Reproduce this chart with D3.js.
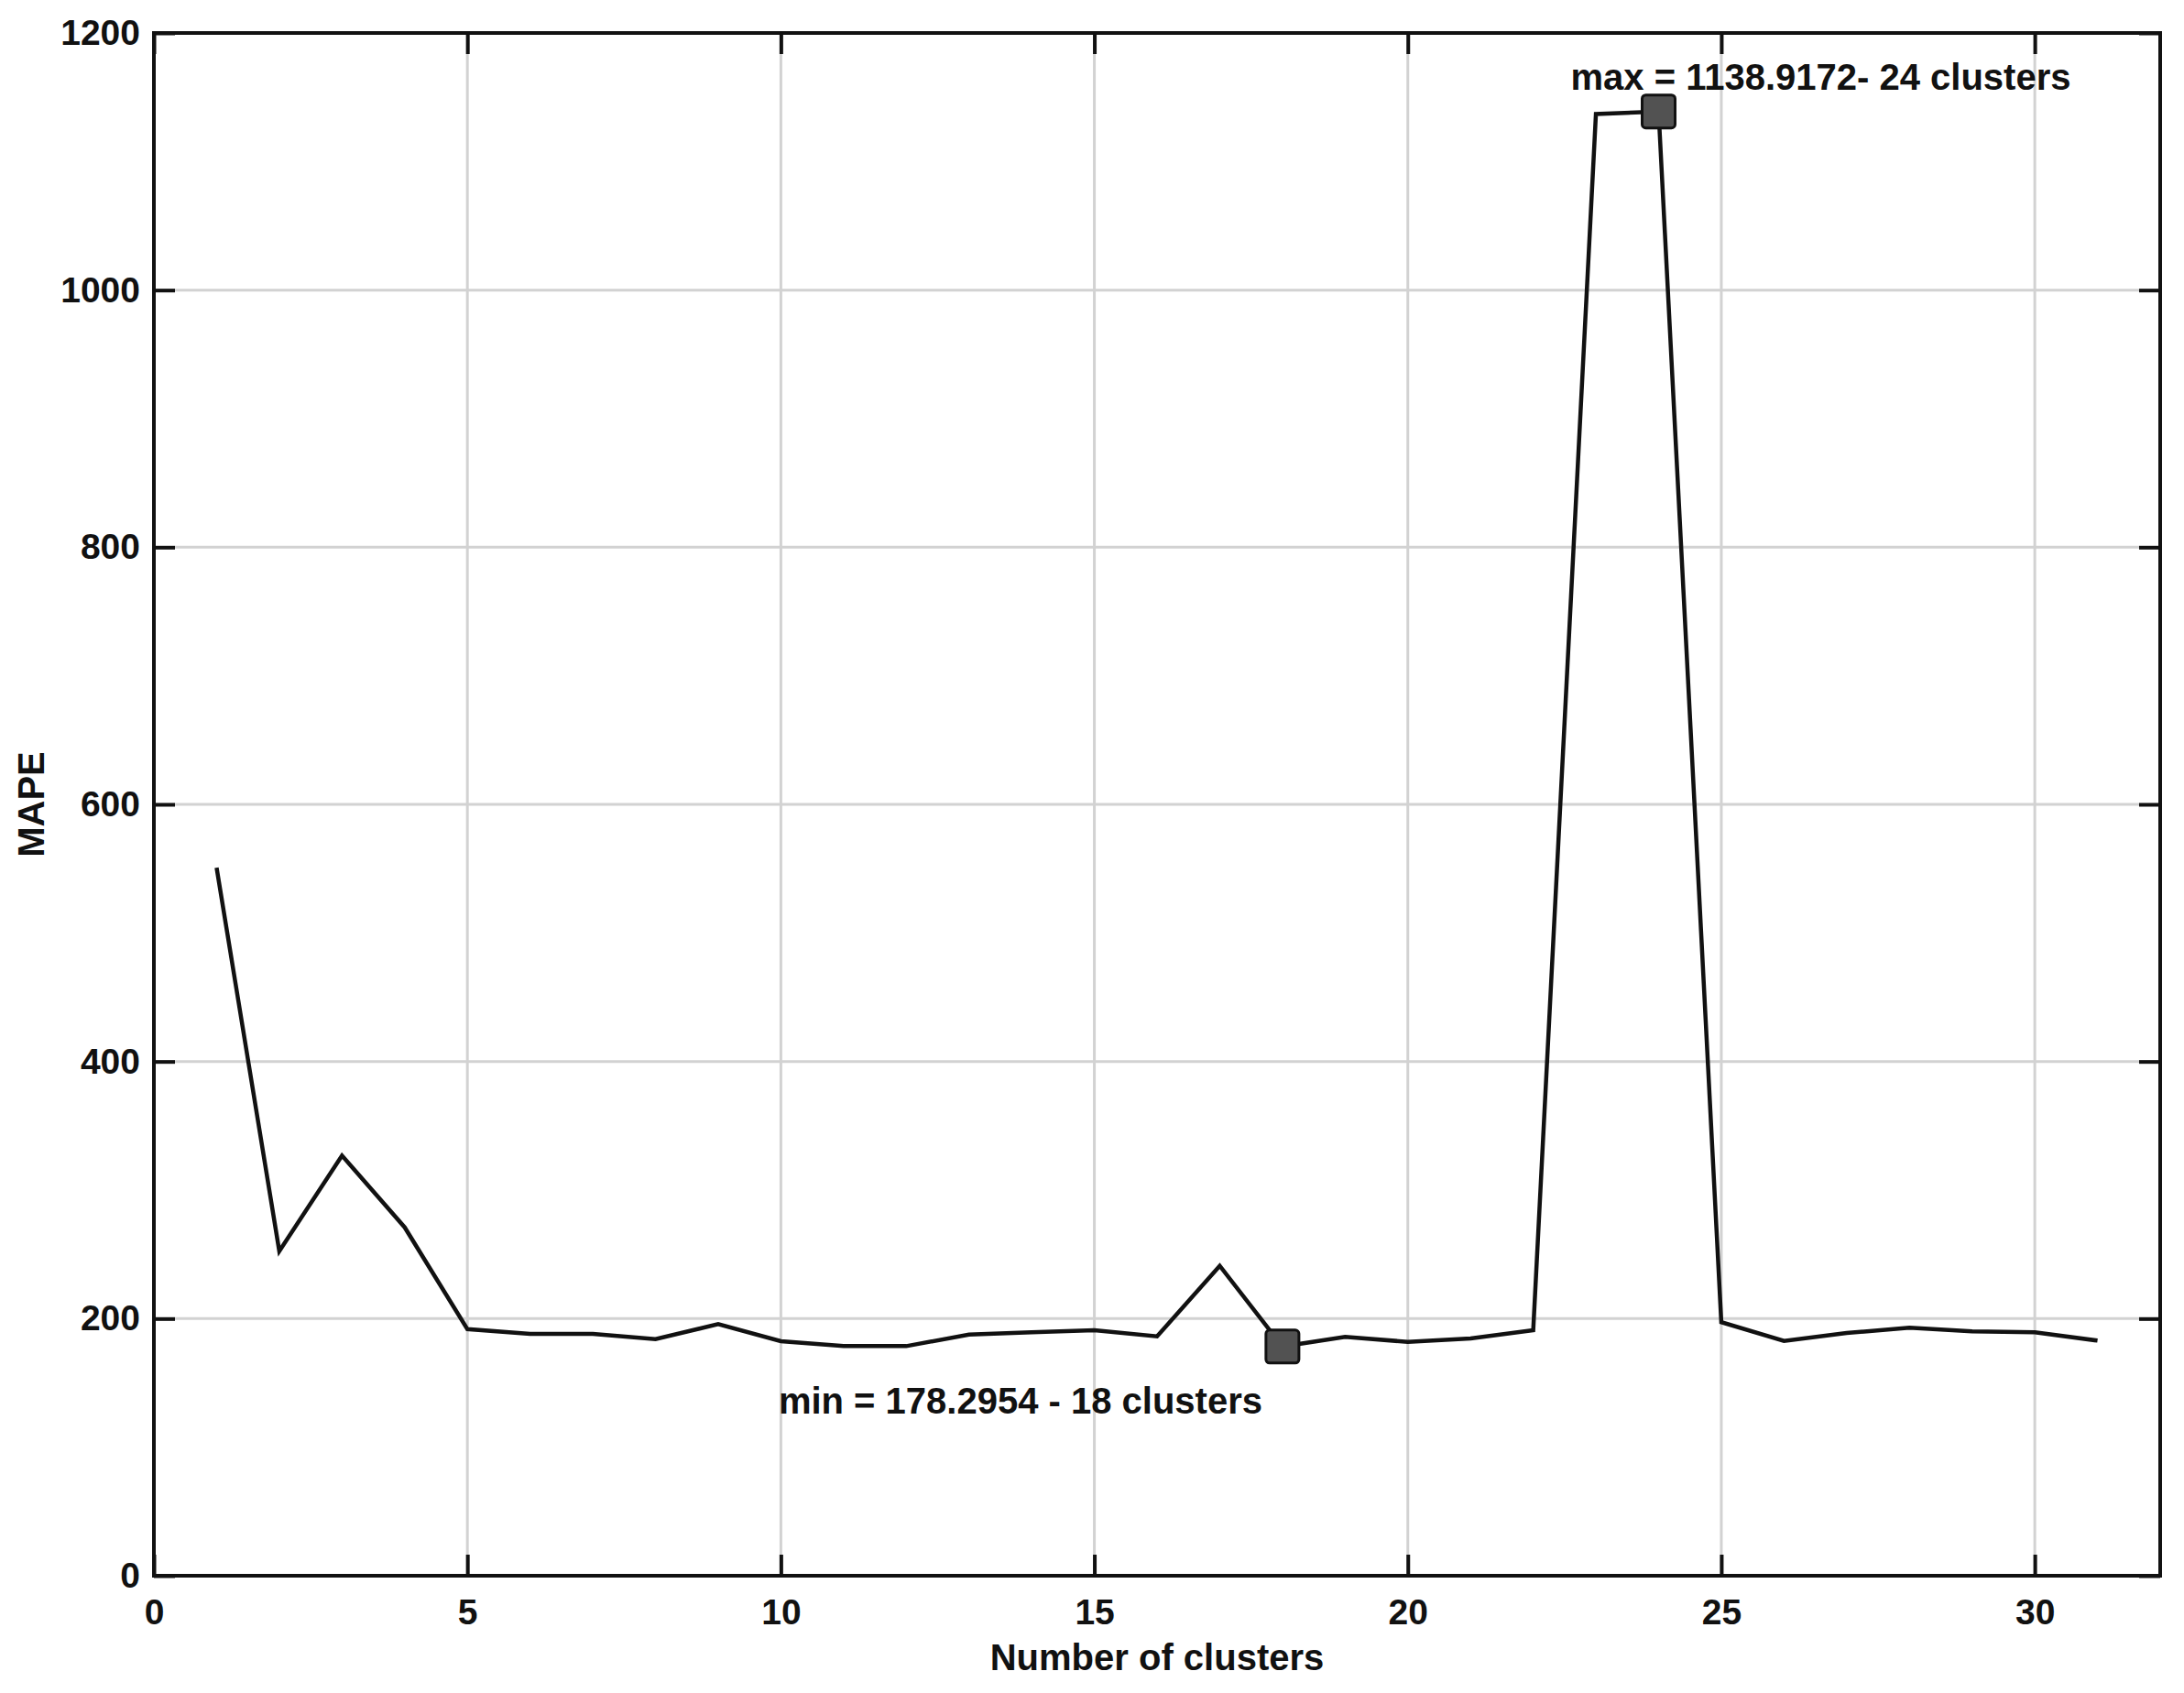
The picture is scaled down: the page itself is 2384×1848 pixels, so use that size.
<!DOCTYPE html>
<html>
<head>
<meta charset="utf-8">
<script src="https://cdn.jsdelivr.net/npm/d3@7"></script>
<style>
  html, body { margin: 0; padding: 0; background: #fff; }
  svg { display: block; }
  text { font-family: "Liberation Sans", Arial, Helvetica, sans-serif; font-weight: bold; fill: #111; }
</style>
</head>
<body>
<script>
// ---- data ----
const clusters = d3.range(1, 32);
const mape = [550.7, 252.5, 326.8, 271, 191.8, 188.1, 188.1, 184.1, 195.7, 182.4,
              178.6, 178.6, 187.6, 189.3, 191.0, 186.2, 241.1, 178.2954, 185.8, 181.9,
              184.6, 191.0, 1137.0, 1138.9172, 197.2, 182.6, 188.8, 192.9, 190.0, 189.3, 182.9];
const xTicks = [0, 5, 10, 15, 20, 25, 30];
const yTicks = [0, 200, 400, 600, 800, 1000, 1200];
const xLabel = "Number of clusters";
const yLabel = "MAPE";
const minLabel = "min = 178.2954 - 18 clusters";
const maxLabel = "max = 1138.9172- 24 clusters";
const minCluster = 18, maxCluster = 24;

// ---- layout ----
const W = 2384, H = 1848;
const L = 168, R = 2358, T = 36, B = 1720;

const svg = d3.select("body").append("svg").attr("width", W).attr("height", H);
svg.append("rect").attr("width", W).attr("height", H).attr("fill", "#fff");

const x = d3.scaleLinear().domain([0, 32]).range([L, R]);
const y = d3.scaleLinear().domain([0, 1200]).range([B, T]);

// grid
const grid = svg.append("g");
grid.selectAll("line.gx").data(xTicks.filter(d => d > 0)).enter().append("line")
  .attr("x1", d => x(d)).attr("x2", d => x(d)).attr("y1", T).attr("y2", B)
  .attr("stroke", "#d2d2d2").attr("stroke-width", 3);
grid.selectAll("line.gy").data(yTicks.filter(d => d > 0 && d < 1200)).enter().append("line")
  .attr("y1", d => y(d)).attr("y2", d => y(d)).attr("x1", L).attr("x2", R)
  .attr("stroke", "#d2d2d2").attr("stroke-width", 3);

// axes
const tickLen = 23;
const fmt = d3.format("d");
const gB = svg.append("g").attr("transform", `translate(0,${B})`)
  .call(d3.axisBottom(x).tickValues(xTicks).tickSize(-tickLen).tickSizeOuter(0).tickPadding(25).tickFormat(fmt));
const gT = svg.append("g").attr("transform", `translate(0,${T})`)
  .call(d3.axisTop(x).tickValues(xTicks).tickSize(-tickLen).tickSizeOuter(0).tickFormat(""));
const gL = svg.append("g").attr("transform", `translate(${L},0)`)
  .call(d3.axisLeft(y).tickValues(yTicks).tickSize(-tickLen).tickSizeOuter(0).tickPadding(15).tickFormat(fmt));
const gR = svg.append("g").attr("transform", `translate(${R},0)`)
  .call(d3.axisRight(y).tickValues(yTicks).tickSize(-tickLen).tickSizeOuter(0).tickFormat(""));
[gB, gT, gL, gR].forEach(g => {
  g.select(".domain").remove();
  g.selectAll(".tick line").attr("stroke", "#111").attr("stroke-width", 4);
  g.selectAll(".tick text").style("font-size", "39px").style("font-family", "Liberation Sans, Arial, sans-serif")
    .style("font-weight", "bold").attr("fill", "#111");
});

// border
svg.append("rect").attr("x", L).attr("y", T).attr("width", R - L).attr("height", B - T)
  .attr("fill", "none").attr("stroke", "#111").attr("stroke-width", 4);

// data line
const line = d3.line().x((d, i) => x(clusters[i])).y(d => y(d));
svg.append("path").datum(mape).attr("d", line)
  .attr("fill", "none").attr("stroke", "#111").attr("stroke-width", 4.5).attr("stroke-linejoin", "miter");

// markers
const marks = [minCluster, maxCluster];
svg.selectAll("rect.mk").data(marks).enter().append("rect")
  .attr("x", d => x(d) - 18).attr("y", d => y(mape[d - 1]) - 18)
  .attr("width", 36).attr("height", 36).attr("rx", 4)
  .attr("fill", "#525252").attr("stroke", "#111").attr("stroke-width", 3);

// annotations
svg.append("text").attr("x", x(maxCluster) - 96).attr("y", y(mape[maxCluster - 1]) - 24)
  .style("font-size", "40px").text(maxLabel);
svg.append("text").attr("x", x(minCluster) - 550).attr("y", y(mape[minCluster - 1]) + 73)
  .style("font-size", "40px").text(minLabel);

// axis labels
svg.append("text").attr("x", (L + R) / 2).attr("y", 1823).attr("text-anchor", "middle")
  .style("font-size", "40px").text(xLabel);
svg.append("text").attr("transform", `translate(48,${(T + B) / 2}) rotate(-90)`)
  .attr("text-anchor", "middle").style("font-size", "40px").text(yLabel);
</script>
</body>
</html>
